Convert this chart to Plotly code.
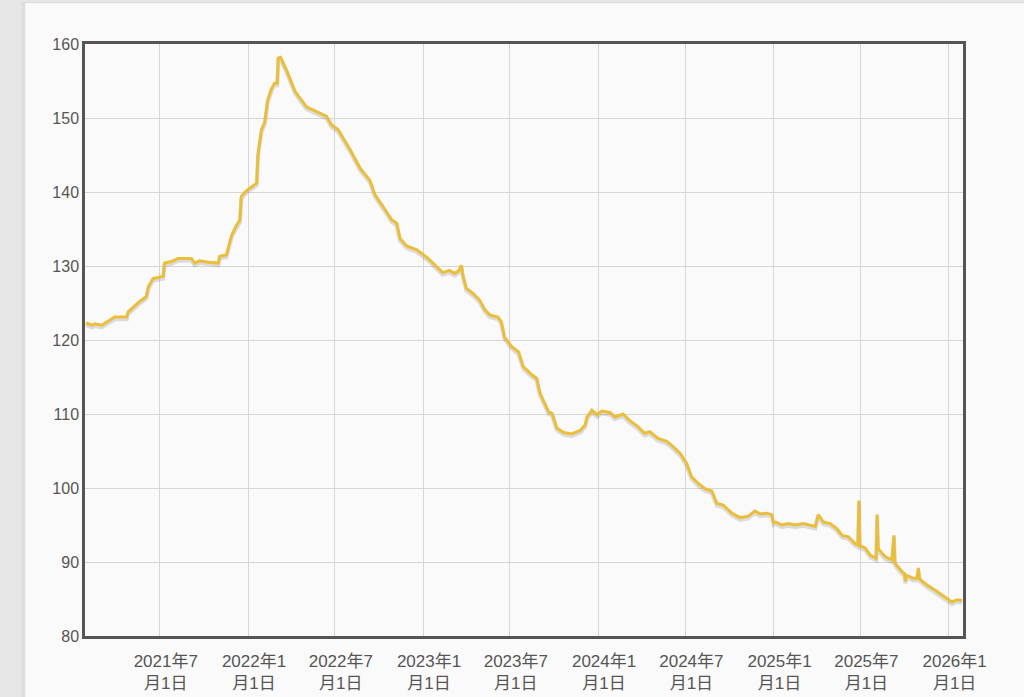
import plotly.graph_objects as go

dates = [
    "2021-01-28", "2021-02-10", "2021-02-15", "2021-03-02", "2021-03-19", "2021-03-29",
    "2021-04-23", "2021-04-26", "2021-05-20", "2021-06-03", "2021-06-07", "2021-06-17",
    "2021-07-08", "2021-07-11", "2021-07-25", "2021-08-08", "2021-09-05", "2021-09-12",
    "2021-09-22", "2021-10-10", "2021-10-31", "2021-11-03", "2021-11-17", "2021-11-28",
    "2021-12-08", "2021-12-15", "2021-12-18", "2021-12-29", "2022-01-19", "2022-01-22",
    "2022-01-29", "2022-02-05", "2022-02-11", "2022-02-18", "2022-02-25", "2022-03-03",
    "2022-03-05", "2022-03-10", "2022-03-22", "2022-04-09", "2022-05-03", "2022-05-20",
    "2022-06-14", "2022-06-24", "2022-07-08", "2022-08-02", "2022-08-23", "2022-09-12",
    "2022-09-23", "2022-10-14", "2022-10-28", "2022-11-07", "2022-11-14", "2022-11-28",
    "2022-12-19", "2023-01-12", "2023-01-29", "2023-02-11", "2023-02-25", "2023-03-08",
    "2023-03-17", "2023-03-22", "2023-03-25", "2023-04-01", "2023-04-15", "2023-04-29",
    "2023-05-10", "2023-05-20", "2023-06-06", "2023-06-13", "2023-06-20", "2023-07-05",
    "2023-07-19", "2023-07-29", "2023-08-16", "2023-08-26", "2023-09-02", "2023-09-13",
    "2023-09-20", "2023-09-27", "2023-10-07", "2023-10-21", "2023-11-07", "2023-11-25",
    "2023-12-05", "2023-12-09", "2023-12-19", "2023-12-30", "2024-01-09", "2024-01-26",
    "2024-02-05", "2024-02-22", "2024-03-07", "2024-03-24", "2024-04-07", "2024-04-18",
    "2024-05-05", "2024-05-23", "2024-06-02", "2024-06-20", "2024-07-04", "2024-07-14",
    "2024-07-28", "2024-08-11", "2024-08-25", "2024-09-05", "2024-09-18", "2024-10-06",
    "2024-10-23", "2024-11-09", "2024-11-23", "2024-12-04", "2024-12-18", "2024-12-28",
    "2025-01-01", "2025-01-05", "2025-01-19", "2025-02-01", "2025-02-15", "2025-03-04",
    "2025-03-29", "2025-04-04", "2025-04-15", "2025-04-29", "2025-05-13", "2025-05-24",
    "2025-06-06", "2025-06-20", "2025-06-26", "2025-06-28", "2025-06-30", "2025-07-11",
    "2025-07-22", "2025-08-03", "2025-08-05", "2025-08-07", "2025-08-10", "2025-08-22",
    "2025-09-05", "2025-09-09", "2025-09-11", "2025-09-14", "2025-09-26", "2025-10-01",
    "2025-10-03", "2025-10-05", "2025-10-20", "2025-10-27", "2025-10-30", "2025-11-01",
    "2025-11-03", "2025-11-17", "2025-12-08", "2025-12-22", "2026-01-08", "2026-01-19",
    "2026-01-29",
]

values = [
    122.3, 122.0, 122.2, 122.0, 122.7, 123.1,
    123.1, 123.8, 125.2, 125.9, 127.2, 128.3,
    128.6, 130.4, 130.6, 131.0, 131.0, 130.4,
    130.7, 130.5, 130.4, 131.3, 131.5, 134.2,
    135.5, 136.2, 139.4, 140.2, 141.2, 145.2,
    148.4, 149.5, 152.4, 153.8, 154.7, 154.7,
    158.1, 158.2, 156.5, 153.6, 151.5, 151.0,
    150.2, 149.1, 148.4, 145.7, 143.2, 141.6,
    139.6, 137.6, 136.2, 135.8, 133.7, 132.7,
    132.2, 131.0, 129.9, 129.1, 129.4, 129.0,
    129.4, 130.1, 128.8, 127.0, 126.3, 125.4,
    124.1, 123.4, 123.1, 122.5, 120.4, 119.1,
    118.4, 116.4, 115.3, 114.8, 112.8, 111.4,
    110.3, 110.1, 108.1, 107.5, 107.3, 107.8,
    108.5, 109.6, 110.5, 109.9, 110.4, 110.2,
    109.6, 110.0, 109.1, 108.3, 107.4, 107.6,
    106.7, 106.3, 105.8, 104.7, 103.3, 101.5,
    100.6, 99.9, 99.6, 97.9, 97.7, 96.6,
    96.0, 96.2, 96.9, 96.5, 96.6, 96.4,
    95.3, 95.4, 95.0, 95.2, 95.0, 95.2,
    94.8, 96.4, 95.4, 95.2, 94.5, 93.6,
    93.4, 92.5, 92.3, 98.3, 92.2, 91.9,
    90.9, 90.5, 96.4, 91.8, 91.6, 90.7,
    90.3, 93.6, 89.9, 89.6, 88.7, 88.4,
    87.4, 88.2, 87.8, 87.8, 89.2, 87.8,
    87.6, 86.9, 86.0, 85.4, 84.6, 84.9,
    84.8,
]

tick_dates = [
    "2021-07-01", "2022-01-01", "2022-07-01", "2023-01-01", "2023-07-01",
    "2024-01-01", "2024-07-01", "2025-01-01", "2025-07-01", "2026-01-01",
]
tick_labels = [
    "2021年7<br>月1日", "2022年1<br>月1日", "2022年7<br>月1日", "2023年1<br>月1日",
    "2023年7<br>月1日", "2024年1<br>月1日", "2024年7<br>月1日", "2025年1<br>月1日",
    "2025年7<br>月1日", "2026年1<br>月1日",
]
y_ticks = [80, 90, 100, 110, 120, 130, 140, 150, 160]

x_range = ["2021-01-26", "2026-01-31"]
y_range = [80, 160]

shadow_values = [v - 0.3 for v in values]

fig = go.Figure()
fig.add_trace(go.Scatter(
    x=dates, y=shadow_values, mode="lines",
    line=dict(color="rgba(0,0,0,0.12)", width=4),
    hoverinfo="skip", showlegend=False,
))
fig.add_trace(go.Scatter(
    x=dates, y=values, mode="lines",
    line=dict(color="#EBBE3A", width=3),
    showlegend=False,
))

# page card (with faint left shadow)
fig.add_shape(type="rect", xref="paper", yref="paper",
              x0=-0.072, x1=1.2, y0=-0.3, y1=1.071,
              fillcolor="#dcdcdc", line=dict(width=0), layer="below")
fig.add_shape(type="rect", xref="paper", yref="paper",
              x0=-0.068, x1=1.2, y0=-0.3, y1=1.069,
              fillcolor="#fafafa", line=dict(width=0), layer="below")

fig.update_layout(
    width=1024, height=697,
    margin=dict(l=85, r=61, t=44, b=61, autoexpand=False),
    paper_bgcolor="#e6e6e6",
    plot_bgcolor="#ffffff",
    font=dict(family="Liberation Sans, Arial, sans-serif", color="#555555"),
    showlegend=False,
)
fig.update_xaxes(
    type="date", range=x_range, automargin=False,
    tickvals=tick_dates, ticktext=tick_labels,
    tickfont=dict(family="Liberation Sans, Noto Sans CJK SC, sans-serif", size=17, color="#555555"),
    ticklabelshift=6, ticklabelstandoff=8,
    showgrid=True, gridcolor="#d6d6d6", gridwidth=1,
    showline=True, mirror=True, linecolor="#555555", linewidth=2.5,
    ticks="", zeroline=False,
)
fig.update_yaxes(
    range=y_range, tickvals=y_ticks, automargin=False,
    tickfont=dict(family="Liberation Sans, Arial, sans-serif", size=16, color="#555555"),
    showgrid=True, gridcolor="#d6d6d6", gridwidth=1,
    showline=True, mirror=True, linecolor="#555555", linewidth=2.5,
    ticks="", zeroline=False,
)

fig.write_html(
    "out.html",
    config={"displayModeBar": False},
    post_script="document.body.style.margin='0';document.body.style.padding='0';",
)
